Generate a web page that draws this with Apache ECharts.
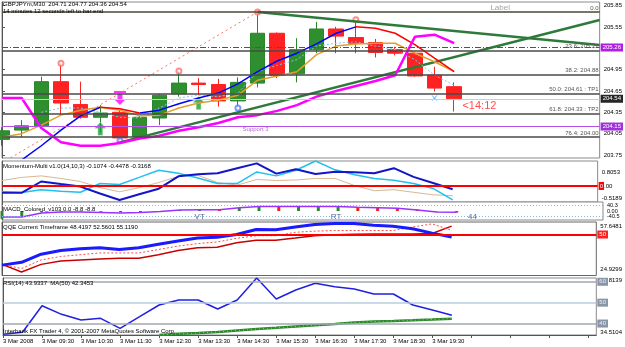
<!DOCTYPE html>
<html><head><meta charset="utf-8">
<script src="https://cdn.jsdelivr.net/npm/echarts@6/dist/echarts.min.js"></script>
<style>html,body{margin:0;padding:0;background:#fff}#c{width:625px;height:347px}</style>
</head><body><div id="c"></div>
<script>
// ---------- data ----------
const timeLabels = ['3 Mar 2008','3 Mar 09:30','3 Mar 10:30','3 Mar 11:30','3 Mar 12:30','3 Mar 13:30','3 Mar 14:30','3 Mar 15:30','3 Mar 16:30','3 Mar 17:30','3 Mar 18:30','3 Mar 19:30'];
const opens  = [203.97,204.10,204.16,204.78,204.46,204.28,204.35,204.01,204.27,204.61,204.76,204.74,204.51,204.76,205.46,204.89,205.23,205.52,205.40,205.33,205.23,205.18,204.87,204.71];
const closes = [204.09,204.16,204.78,204.48,204.28,204.34,203.99,204.28,204.59,204.76,204.74,204.51,204.77,205.46,204.87,205.23,205.52,205.42,205.32,205.19,205.18,204.86,204.69,204.54];
const lows   = [203.88,204.00,204.14,204.31,204.26,204.07,203.95,203.96,204.17,204.57,204.59,204.43,204.41,204.70,204.83,204.77,205.18,205.18,205.18,205.12,205.15,204.85,204.64,204.36];
const highs  = [204.14,204.24,204.85,205.04,204.78,204.45,204.37,204.30,204.61,204.93,204.83,204.82,204.84,205.76,205.47,205.39,205.62,205.55,205.65,205.38,205.27,205.20,204.99,204.77];

const maColored  = [203.46,203.68,203.88,204.10,204.30,204.42,204.40,204.34,204.38,204.47,204.55,204.62,204.75,204.92,205.07,205.18,205.31,205.46,205.55,205.53,205.46,205.30,205.11,204.92];
const maOrange   = [204.00,204.05,204.17,204.31,204.38,204.42,204.38,204.30,204.31,204.41,204.48,204.52,204.59,204.80,204.86,204.92,205.16,205.28,205.31,205.32,205.32,205.18,205.06,204.92];
const maLightBlue= [null,null,204.35,204.41,204.41,204.35,204.28,204.27,204.41,204.55,204.59,204.57,204.62,204.92,205.01,205.09,205.28,205.32,205.34,205.28,205.23,205.09,204.87,204.73];
const magentaLine= [204.55,204.55,204.13,203.93,203.88,203.88,203.92,203.98,204.02,204.09,204.14,204.20,204.28,204.31,204.37,204.45,204.57,204.65,204.72,204.79,204.87,205.41,205.44,205.32];

const fibLevels = [0, 23.6, 38.2, 50, 61.8, 76.4];
const fibPrices = [205.76, 205.22, 204.88, 204.61, 204.33, 204.00];
const fibTags   = ['', '', '', ' : TP1', ' : TP2', ''];
const fibDiagonal = [[-1.1, 203.46], [13, 205.76]];
const trendDown = [[13, 205.76], [30.4, 205.295]];
const trendUp   = [[5.9, 203.92], [30.4, 205.646]];
const resistLevel = 205.26, supportLevel = 204.15, bidPrice = 204.54;
const priceTicks = [203.75, 204.05, 204.35, 204.65, 204.95, 205.55, 205.85];

const fractalUpIdx = [3, 9, 13, 18];
const fractalDownIdx = [6, 12];
const buySignals = [[5, 204.12], [10, 204.48]];
const sellSignals = [[6, 204.55]];
const crossMarks = [[22, 204.55]];
const noteTexts = ['Support 3', '<14:12', 'Label'];
const notePos = [[12.9, 204.15], [23.42, 204.44], [25.34, 205.815]];

const momBlue = [-0.221,-0.221,0.143,0.060,-0.022,-0.244,-0.453,-0.271,-0.089,0.309,0.375,0.408,0.574,0.729,0.398,0.540,0.385,0.458,0.441,0.408,0.573,0.292,0.093,-0.1074];
const momCyan = [-0.188,-0.211,-0.122,-0.171,-0.205,0.077,0.044,0.275,0.507,0.408,0.259,0.077,0.077,0.451,0.325,0.507,0.8053,0.52,0.36,0.24,0.186,0.08,-0.08,-0.4478];
const momTan  = [0.176,0.275,0.325,0.242,0.143,-0.056,-0.188,-0.056,0.110,0.309,0.342,0.110,0.027,0.209,0.176,0.193,0.242,0.242,0.011,-0.155,-0.122,-0.205,-0.287,-0.3168];
const momRange = [-0.5189, 0.8053];

const macdSignal = [-45.8,-45.8,-14.5,-7.3,-7.3,-10.9,-14.5,-10.9,-3.6,7.3,9.5,9.5,25.4,34.2,34.2,34.2,34.2,34.2,29.1,25.4,21.8,7.3,-7.3,-8.8];
const macdHist   = [-60,-45,-10,-5,-4,-6,-10,-8,-2,8,10,9,24,36,33,35,37,38,30,26,22,12,-2,-12];
const macdLevels = [40.3, -40.5];
const macdNotes = ['VT', 'RT', '44'];
const macdNotePos = [[10.0, -46], [16.9, -46], [23.8, -46]];

const qqeBlue   = [31.28,33.0,37.96,40.18,41.26,41.89,40.81,41.89,43.99,46.09,47.80,48.25,50.02,53.07,52.88,54.54,56.06,56.70,56.70,55.62,54.98,53.52,50.85,48.42];
const qqeRed    = [31.73,27.03,31.73,33.82,34.46,35.09,35.54,35.54,37.64,40.18,41.89,42.27,44.94,46.53,46.53,47.80,49.26,49.90,50.2,50.3,50.3,50.3,50.6,55.12];
const qqeDashed = [31.73,29.19,34.46,36.56,37.64,38.72,38.72,38.72,40.81,42.91,44.44,45.45,47.68,49.26,49.26,51.36,52.06,52.44,52.44,52.44,52.44,54.60,56.5,52.56];
const qqeRange = [24.9299, 57.6481];
const qqeLevel = 50;

const rsiValues = [34.9,35.80,48.54,44.42,41.69,42.51,37.72,43.28,48.88,51.28,51.28,46.96,51.28,61.81,51.75,56.06,59.27,57.65,56.54,54.15,54.15,48.88,46.48,43.93];
const rsiMA     = [null,null,null,null,null,null,null,null,34.51,35.08,35.47,35.95,36.66,37.38,37.96,38.58,39.20,39.78,40.50,40.98,41.22,41.55,41.94,42.35];
const rsiRange = [34.5104, 61.8139];
const rsiLevels = [60, 50, 40];

const paneTitles = [
  'GBPJPYm,M30  204.71 204.77 204.36 204.54',
  '14 minutes 12 seconds left to bar end',
  'Momentum-Multi v1.0(14,10,3) -0.1074 -0.4478 -0.3168',
  'MACD_Colored_v103 0.0 -8.8 -8.8',
  'QQE Current Timeframe 48.4197 52.5601 55.1190',
  'RSI(14) 43.9337  MA(50) 42.3453',
  'Interbank FX Trader 4, \u00a9 2001-2007 MetaQuotes Software Corp.'
];

// ---------- build ----------
const FONT = 'Liberation Sans';
const N = opens.length;
const idx = Array.from({length: N}, (_, i) => i);
const pts = arr => arr.map((v, i) => [i, v == null ? null : v]);

const maUp = idx.map(i => [i, null]), maDown = idx.map(i => [i, null]);
for (let i = 1; i < N; i++) {
  const t = maColored[i] >= maColored[i - 1] ? maUp : maDown;
  t[i - 1] = [i - 1, maColored[i - 1]];
  t[i] = [i, maColored[i]];
}

const gridBase = {left: 2, right: 22, show: true, borderColor: '#8a8a8a', borderWidth: 1, backgroundColor: '#fff'};
const grids = [
  Object.assign({}, gridBase, {top: 2, height: 156}),
  Object.assign({}, gridBase, {top: 161, height: 41}),
  Object.assign({}, gridBase, {top: 202, height: 18}),
  Object.assign({}, gridBase, {top: 222, height: 53.5, borderColor: '#666'}),
  Object.assign({}, gridBase, {top: 278, height: 57})
];

const xAxes = grids.map((g, k) => ({
  type: 'value', gridIndex: k, min: 0, max: 30.4, interval: 2, show: k === 4,
  splitLine: {show: false},
  axisLine: {show: true, lineStyle: {color: '#555'}},
  axisTick: {show: true, length: 3, lineStyle: {color: '#555'}},
  axisLabel: {
    formatter: v => (timeLabels[v / 2] || ''), align: 'left', fontSize: 6,
    fontFamily: FONT, color: '#000', margin: 3, showMaxLabel: false, hideOverlap: false
  }
}));

const axisBase = {
  type: 'value', position: 'right', splitLine: {show: false},
  axisLine: {show: true, lineStyle: {color: '#555'}},
  axisTick: {show: true, length: 3, lineStyle: {color: '#555'}}
};
function edgeAxis(k, range, maxText, minText, padTop, padBottom) {
  const [mn, mx] = range;
  return Object.assign({}, axisBase, {
    gridIndex: k, min: mn, max: mx,
    axisTick: {show: false},
    axisLabel: {
      customValues: [mx, mn], margin: 4, hideOverlap: false,
      formatter: v => v === mx ? '{t|' + maxText + '}' : '{b|' + minText + '}',
      rich: {
        t: {padding: [padTop, 0, 0, 0], fontSize: 6, fontFamily: FONT, color: '#000'},
        b: {padding: [0, 0, padBottom, 0], fontSize: 6, fontFamily: FONT, color: '#000'}
      }
    }
  });
}
const yAxes = [
  Object.assign({}, axisBase, {
    gridIndex: 0, min: 203.708, max: 205.899,
    axisTick: {show: true, length: 3, customValues: priceTicks, lineStyle: {color: '#555'}},
    axisLabel: {customValues: priceTicks, formatter: v => v.toFixed(2), fontSize: 6, fontFamily: FONT, color: '#000', margin: 4, hideOverlap: false}
  }),
  edgeAxis(1, momRange, '0.8053', '-0.5189', 22, 7),
  Object.assign({}, axisBase, {
    gridIndex: 2, min: -69, max: 69,
    axisTick: {show: false},
    axisLabel: {customValues: [0], hideOverlap: false, formatter: () => '0.00', fontSize: 5.5, fontFamily: FONT, color: '#000', margin: 4}
  }),
  edgeAxis(3, qqeRange, '57.6481', '24.9299', 9, 12),
  edgeAxis(4, rsiRange, '61.8139', '34.5104', 5, 5)
];

const boxLabel = (text, bg, fg) => ({
  show: true, position: 'end', formatter: text, backgroundColor: bg, color: fg || '#fff',
  fontSize: 6, fontFamily: FONT, padding: [1, 2], distance: 1
});

const fibMarks = fibLevels.map((lv, i) => ({
  yAxis: fibPrices[i],
  lineStyle: {color: i === 0 ? '#4a4a36' : '#4a4a4a', width: 1.6, type: 'solid'},
  label: {
    show: true, position: 'insideEndTop', distance: 1,
    formatter: lv === 0 ? '0.0' : lv.toFixed(1) + ': ' + fibPrices[i].toFixed(2) + fibTags[i],
    color: '#555', fontSize: 6, fontFamily: FONT
  }
}));
const levelMarks = [
  {yAxis: resistLevel, lineStyle: {color: '#b000ff', width: 1, type: [6, 2, 1, 2]}, label: boxLabel(resistLevel.toFixed(2), '#b020e0')},
  {yAxis: supportLevel, lineStyle: {color: '#b450e6', width: 1, type: 'solid'}, label: boxLabel(supportLevel.toFixed(2), '#a030d8')},
  {yAxis: bidPrice, lineStyle: {color: '#b4d2ee', width: 1, type: 'solid'}, label: boxLabel(bidPrice.toFixed(2), '#262626')}
];

const arrowUp = 'path://M6,0 L12,6 L8.5,6 L8.5,13 L3.5,13 L3.5,6 L0,6 Z';
const arrowDown = 'path://M0,0 L12,0 L12,2 L0,2 Z M3.5,3 L8.5,3 L8.5,8 L12,8 L6,14 L0,8 L3.5,8 Z';
const crossSym = 'path://M0,0 L2,0 L5,3 L8,0 L10,0 L6,4 L10,8 L8,8 L5,5 L2,8 L0,8 L4,4 Z';

const noteStyles = [
  {position: 'bottom', distance: 0, color: '#a040d0', fontSize: 6},
  {position: 'right', distance: 0, color: '#ff2020', fontSize: 11},
  {position: 'inside', color: '#8c8c8c', fontSize: 8}
];

const line = (xi, data, color, width, extra) => Object.assign({
  type: 'line', xAxisIndex: xi, yAxisIndex: xi, data: data, showSymbol: false, symbol: 'none',
  lineStyle: {color: color, width: width}, silent: true, connectNulls: false
}, extra || {});

const series = [
  {
    type: 'candlestick', xAxisIndex: 0, yAxisIndex: 0, barWidth: 15, silent: true,
    data: idx.map(i => [i, opens[i], closes[i], lows[i], highs[i]]),
    itemStyle: {color: '#2f8f2f', color0: '#ff2222', borderColor: '#2a862a', borderColor0: '#ff2222', borderWidth: 1}
  },
  line(0, fibDiagonal, '#ff7060', 1, {
    lineStyle: {color: '#ff7060', width: 1, type: [2, 3]},
    markLine: {symbol: ['none', 'none'], silent: true, data: fibMarks.concat(levelMarks)}
  }),
  line(0, trendDown, '#2d7a3a', 2.5),
  line(0, trendUp, '#2d7a3a', 2.5),
  line(0, pts(maLightBlue), '#7ec8f0', 1, {lineStyle: {color: '#7ec8f0', width: 1, type: [2, 2]}}),
  line(0, pts(maOrange), '#e0a030', 1.5),
  line(0, maUp, '#0000ff', 1.5),
  line(0, maDown, '#ff0000', 1.5),
  line(0, pts(magentaLine), '#ff00ff', 2.5),
  {type: 'scatter', xAxisIndex: 0, yAxisIndex: 0, silent: true, symbol: 'emptyCircle', symbolSize: 5,
   itemStyle: {color: '#ff7070', borderWidth: 1}, data: fractalUpIdx.map(i => [i, highs[i]])},
  {type: 'scatter', xAxisIndex: 0, yAxisIndex: 0, silent: true, symbol: 'emptyCircle', symbolSize: 5,
   itemStyle: {color: '#6080ff', borderWidth: 1}, data: fractalDownIdx.map(i => [i, lows[i]])},
  {type: 'scatter', xAxisIndex: 0, yAxisIndex: 0, silent: true, symbol: arrowUp, symbolSize: [11, 13],
   itemStyle: {color: '#1f9a3a', borderColor: '#8fe08f', borderWidth: 0.5}, data: buySignals},
  {type: 'scatter', xAxisIndex: 0, yAxisIndex: 0, silent: true, symbol: arrowDown, symbolSize: [12, 14],
   itemStyle: {color: '#ff00ff'}, data: sellSignals},
  {type: 'scatter', xAxisIndex: 0, yAxisIndex: 0, silent: true, symbol: crossSym, symbolSize: [6, 5],
   itemStyle: {color: '#40a0ff'}, data: crossMarks},
  {type: 'scatter', xAxisIndex: 0, yAxisIndex: 0, silent: true, symbolSize: 0,
   data: noteTexts.map((t, i) => ({value: notePos[i], label: Object.assign({show: true, formatter: t, fontFamily: FONT}, noteStyles[i])}))},

  // momentum
  line(1, pts(momTan), '#d8b890', 1),
  line(1, pts(momCyan), '#20c0f0', 1.5),
  line(1, pts(momBlue), '#1414c8', 2, {
    markLine: {symbol: ['none', 'none'], silent: true, data: [{
      yAxis: 0, lineStyle: {color: '#ff0000', width: 2, type: 'solid'},
      label: {show: true, position: 'end', distance: 1, formatter: '{a|0}{b|.00}', fontSize: 6, fontFamily: FONT,
        rich: {a: {backgroundColor: '#ff0000', color: '#fff', fontSize: 6, padding: [1, 1]}, b: {color: '#000', fontSize: 6}}}
    }]}
  }),

  // macd
  {type: 'bar', xAxisIndex: 2, yAxisIndex: 2, barWidth: 3, silent: true,
   data: macdHist.map((v, i) => ({value: [i, v], itemStyle: {color: (i === 0 || v >= macdHist[i - 1]) ? '#2a8a2a' : '#ff1a1a'}}))},
  line(2, pts(macdSignal), '#9933ff', 1.5, {
    markLine: {symbol: ['none', 'none'], silent: true,
      data: macdLevels.map(v => ({yAxis: v, lineStyle: {color: '#8ab4e0', width: 1, type: [1, 2]},
        label: {show: true, position: 'end', distance: 4, formatter: String(v), color: '#000', fontSize: 5.5, fontFamily: FONT}}))}
  }),
  {type: 'scatter', xAxisIndex: 2, yAxisIndex: 2, silent: true, symbolSize: 0,
   data: macdNotes.map((t, i) => ({value: macdNotePos[i], label: {show: true, formatter: t, position: 'inside', color: '#283c7c', fontSize: 8, fontFamily: FONT}}))},

  // qqe
  line(3, pts(qqeRed), '#c80000', 1.5),
  line(3, pts(qqeDashed), '#ff4a4a', 1, {lineStyle: {color: '#ff4a4a', width: 1, type: [2, 2]}}),
  line(3, pts(qqeBlue), '#1a1aff', 3, {
    markLine: {symbol: ['none', 'none'], silent: true, data: [{
      yAxis: qqeLevel, lineStyle: {color: '#ff0000', width: 2, type: 'solid'},
      label: boxLabel(String(qqeLevel), '#ff2020')
    }]}
  }),

  // rsi
  line(4, pts(rsiMA), '#2a8a2a', 2.5),
  line(4, pts(rsiMA), '#9be09b', 1, {lineStyle: {color: '#9be09b', width: 0.8, type: [1, 3]}}),
  line(4, pts(rsiValues), '#2020e0', 1.5, {
    markLine: {symbol: ['none', 'none'], silent: true,
      data: rsiLevels.map(v => ({yAxis: v, lineStyle: {color: v === 50 ? '#b8cde0' : '#a0a8b0', width: 1.5, type: 'solid'},
        label: boxLabel(String(v), '#8896a8', '#eef')}))}
  })
];

const titles = paneTitles.map((t, i) => ({
  text: t, left: 3, top: [1.5, 8.5, 163.5, 206, 224.5, 280.5, 328][i], padding: 0,
  textStyle: {fontSize: 6, fontWeight: 'normal', color: '#000', fontFamily: FONT}
}));

const chart = echarts.init(document.getElementById('c'));
chart.setOption({
  animation: false, backgroundColor: '#fff', textStyle: {fontFamily: FONT},
  title: titles, grid: grids, xAxis: xAxes, yAxis: yAxes, series: series
});
</script>
</body></html>
